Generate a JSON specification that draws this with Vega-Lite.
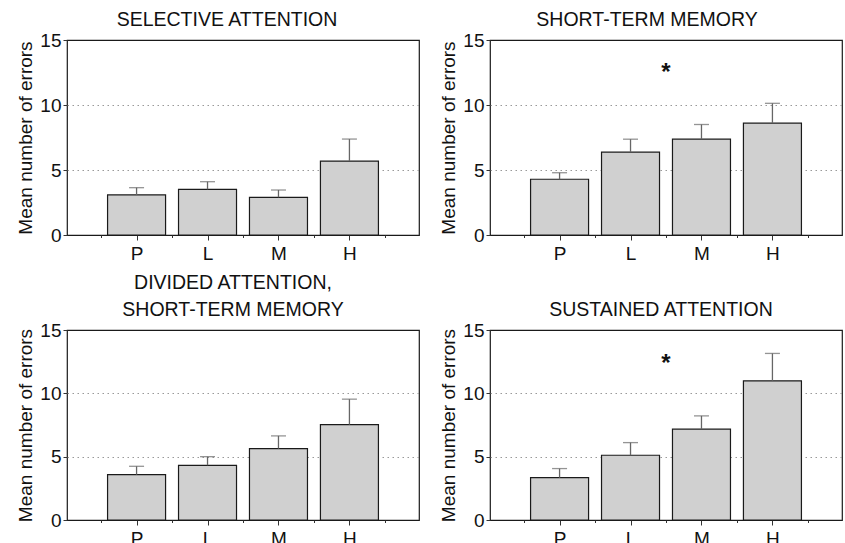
{
  "$schema": "https://vega.github.io/schema/vega-lite/v6.json",
  "padding": {"left": 16, "top": 8, "right": 0, "bottom": 0},
  "background": "white",
  "spacing": 7,
  "config": {
    "font": "Liberation Sans",
    "view": {"stroke": "#1a1a1a", "strokeWidth": 1.2},
    "concat": {"spacing": 19},
    "axis": {
      "domain": false,
      "labelFont": "Liberation Sans",
      "labelFontSize": 19,
      "labelColor": "#111",
      "tickColor": "#333",
      "titleFont": "Liberation Sans",
      "titleFontSize": 19,
      "titleFontWeight": "normal",
      "titleColor": "#111"
    },
    "title": {"font": "Liberation Sans", "fontSize": 19.5, "fontWeight": "normal", "color": "#111", "anchor": "middle", "offset": 1, "lineHeight": 27}
  },
  "datasets": {
    "bars": [
      {"panel": "SA", "group": "P", "pos": 1, "mean": 3.08, "err": 3.64},
      {"panel": "SA", "group": "L", "pos": 2, "mean": 3.51, "err": 4.10},
      {"panel": "SA", "group": "M", "pos": 3, "mean": 2.90, "err": 3.46},
      {"panel": "SA", "group": "H", "pos": 4, "mean": 5.69, "err": 7.38},
      {"panel": "STM", "group": "P", "pos": 1, "mean": 4.29, "err": 4.79},
      {"panel": "STM", "group": "L", "pos": 2, "mean": 6.37, "err": 7.37},
      {"panel": "STM", "group": "M", "pos": 3, "mean": 7.37, "err": 8.50},
      {"panel": "STM", "group": "H", "pos": 4, "mean": 8.60, "err": 10.13},
      {"panel": "DA", "group": "P", "pos": 1, "mean": 3.58, "err": 4.24},
      {"panel": "DA", "group": "L", "pos": 2, "mean": 4.32, "err": 5.00},
      {"panel": "DA", "group": "M", "pos": 3, "mean": 5.64, "err": 6.64},
      {"panel": "DA", "group": "H", "pos": 4, "mean": 7.53, "err": 9.54},
      {"panel": "SUS", "group": "P", "pos": 1, "mean": 3.34, "err": 4.06},
      {"panel": "SUS", "group": "L", "pos": 2, "mean": 5.11, "err": 6.11},
      {"panel": "SUS", "group": "M", "pos": 3, "mean": 7.17, "err": 8.22},
      {"panel": "SUS", "group": "H", "pos": 4, "mean": 10.99, "err": 13.15}
    ],
    "stars": [
      {"panel": "STM", "pos": 2.5, "y": 12.9, "label": "*"},
      {"panel": "SUS", "pos": 2.5, "y": 12.8, "label": "*"}
    ]
  },
  "vconcat": [
    {
      "hconcat": [
        {
          "title": {"text": "SELECTIVE ATTENTION", "dx": -16},
          "width": 352, "height": 195,
          "data": {"name": "bars"},
          "transform": [{"filter": "datum.panel === 'SA'"}],
          "encoding": {
            "x": {"field": "pos", "type": "quantitative",
              "scale": {"domain": [0.09, 4.91], "nice": false, "zero": false},
              "axis": {"title": null, "grid": false, "values": [0.5, 1, 1.5, 2, 2.5, 3, 3.5, 4, 4.5],
                "labelExpr": "datum.value === 1 ? 'P' : datum.value === 2 ? 'L' : datum.value === 3 ? 'M' : datum.value === 4 ? 'H' : ''",
                "tickSize": {"condition": {"test": "datum.value % 1 === 0", "value": 5}, "value": 2.5},
                "labelPadding": 4}}
          },
          "layer": [
            {"mark": {"type": "bar", "size": 58, "fill": "#d0d0d0", "stroke": "#1a1a1a", "strokeWidth": 1.2},
             "encoding": {"y": {"field": "mean", "type": "quantitative",
               "scale": {"domain": [0, 15], "nice": false},
               "axis": {"title": "Mean number of errors", "values": [0, 2.5, 5, 7.5, 10, 12.5, 15],
                 "labelExpr": "datum.value % 5 === 0 ? datum.label : ''",
                 "tickSize": {"condition": {"test": "datum.value % 5 === 0", "value": 4}, "value": 2.5},
                 "grid": true, "gridColor": "#999", "gridDash": [1.5, 3.5],
                 "gridOpacity": {"condition": {"test": "datum.value === 5 || datum.value === 10", "value": 1}, "value": 0},
                 "labelPadding": 2, "titlePadding": 4}}}},
            {"mark": {"type": "rule", "color": "#666", "strokeWidth": 1.3},
             "encoding": {"y": {"field": "mean", "type": "quantitative"}, "y2": {"field": "err"}}},
            {"mark": {"type": "tick", "orient": "horizontal", "color": "#666", "size": 15, "thickness": 1.3},
             "encoding": {"y": {"field": "err", "type": "quantitative"}}}
          ]
        },
        {
          "title": {"text": "SHORT-TERM MEMORY", "dx": -19},
          "width": 352, "height": 195,
          "data": {"name": "bars"},
          "transform": [{"filter": "datum.panel === 'STM'"}],
          "encoding": {
            "x": {"field": "pos", "type": "quantitative",
              "scale": {"domain": [0.09, 4.91], "nice": false, "zero": false},
              "axis": {"title": null, "grid": false, "values": [0.5, 1, 1.5, 2, 2.5, 3, 3.5, 4, 4.5],
                "labelExpr": "datum.value === 1 ? 'P' : datum.value === 2 ? 'L' : datum.value === 3 ? 'M' : datum.value === 4 ? 'H' : ''",
                "tickSize": {"condition": {"test": "datum.value % 1 === 0", "value": 5}, "value": 2.5},
                "labelPadding": 4}}
          },
          "layer": [
            {"mark": {"type": "bar", "size": 58, "fill": "#d0d0d0", "stroke": "#1a1a1a", "strokeWidth": 1.2},
             "encoding": {"y": {"field": "mean", "type": "quantitative",
               "scale": {"domain": [0, 15], "nice": false},
               "axis": {"title": "Mean number of errors", "values": [0, 2.5, 5, 7.5, 10, 12.5, 15],
                 "labelExpr": "datum.value % 5 === 0 ? datum.label : ''",
                 "tickSize": {"condition": {"test": "datum.value % 5 === 0", "value": 4}, "value": 2.5},
                 "grid": true, "gridColor": "#999", "gridDash": [1.5, 3.5],
                 "gridOpacity": {"condition": {"test": "datum.value === 5 || datum.value === 10", "value": 1}, "value": 0},
                 "labelPadding": 2, "titlePadding": 4}}}},
            {"mark": {"type": "rule", "color": "#666", "strokeWidth": 1.3},
             "encoding": {"y": {"field": "mean", "type": "quantitative"}, "y2": {"field": "err"}}},
            {"mark": {"type": "tick", "orient": "horizontal", "color": "#666", "size": 15, "thickness": 1.3},
             "encoding": {"y": {"field": "err", "type": "quantitative"}}},
            {"data": {"name": "stars"},
             "transform": [{"filter": "datum.panel === 'STM'"}],
             "mark": {"type": "text", "fontSize": 24, "fontWeight": "bold", "baseline": "middle", "align": "center", "dy": 6, "color": "#111", "font": "Liberation Sans"},
             "encoding": {"y": {"field": "y", "type": "quantitative"}, "text": {"field": "label"}}}
          ]
        }
      ]
    },
    {
      "hconcat": [
        {
          "title": {"text": ["DIVIDED ATTENTION,", "SHORT-TERM MEMORY"], "dx": -10},
          "width": 352, "height": 190,
          "data": {"name": "bars"},
          "transform": [{"filter": "datum.panel === 'DA'"}],
          "encoding": {
            "x": {"field": "pos", "type": "quantitative",
              "scale": {"domain": [0.09, 4.91], "nice": false, "zero": false},
              "axis": {"title": null, "grid": false, "values": [0.5, 1, 1.5, 2, 2.5, 3, 3.5, 4, 4.5],
                "labelExpr": "datum.value === 1 ? 'P' : datum.value === 2 ? 'L' : datum.value === 3 ? 'M' : datum.value === 4 ? 'H' : ''",
                "tickSize": {"condition": {"test": "datum.value % 1 === 0", "value": 5}, "value": 2.5},
                "labelPadding": 4}}
          },
          "layer": [
            {"mark": {"type": "bar", "size": 58, "fill": "#d0d0d0", "stroke": "#1a1a1a", "strokeWidth": 1.2},
             "encoding": {"y": {"field": "mean", "type": "quantitative",
               "scale": {"domain": [0, 15], "nice": false},
               "axis": {"title": "Mean number of errors", "values": [0, 2.5, 5, 7.5, 10, 12.5, 15],
                 "labelExpr": "datum.value % 5 === 0 ? datum.label : ''",
                 "tickSize": {"condition": {"test": "datum.value % 5 === 0", "value": 4}, "value": 2.5},
                 "grid": true, "gridColor": "#999", "gridDash": [1.5, 3.5],
                 "gridOpacity": {"condition": {"test": "datum.value === 5 || datum.value === 10", "value": 1}, "value": 0},
                 "labelPadding": 2, "titlePadding": 4}}}},
            {"mark": {"type": "rule", "color": "#666", "strokeWidth": 1.3},
             "encoding": {"y": {"field": "mean", "type": "quantitative"}, "y2": {"field": "err"}}},
            {"mark": {"type": "tick", "orient": "horizontal", "color": "#666", "size": 15, "thickness": 1.3},
             "encoding": {"y": {"field": "err", "type": "quantitative"}}}
          ]
        },
        {
          "title": {"text": "SUSTAINED ATTENTION", "dx": -5},
          "width": 352, "height": 190,
          "data": {"name": "bars"},
          "transform": [{"filter": "datum.panel === 'SUS'"}],
          "encoding": {
            "x": {"field": "pos", "type": "quantitative",
              "scale": {"domain": [0.09, 4.91], "nice": false, "zero": false},
              "axis": {"title": null, "grid": false, "values": [0.5, 1, 1.5, 2, 2.5, 3, 3.5, 4, 4.5],
                "labelExpr": "datum.value === 1 ? 'P' : datum.value === 2 ? 'L' : datum.value === 3 ? 'M' : datum.value === 4 ? 'H' : ''",
                "tickSize": {"condition": {"test": "datum.value % 1 === 0", "value": 5}, "value": 2.5},
                "labelPadding": 4}}
          },
          "layer": [
            {"mark": {"type": "bar", "size": 58, "fill": "#d0d0d0", "stroke": "#1a1a1a", "strokeWidth": 1.2},
             "encoding": {"y": {"field": "mean", "type": "quantitative",
               "scale": {"domain": [0, 15], "nice": false},
               "axis": {"title": "Mean number of errors", "values": [0, 2.5, 5, 7.5, 10, 12.5, 15],
                 "labelExpr": "datum.value % 5 === 0 ? datum.label : ''",
                 "tickSize": {"condition": {"test": "datum.value % 5 === 0", "value": 4}, "value": 2.5},
                 "grid": true, "gridColor": "#999", "gridDash": [1.5, 3.5],
                 "gridOpacity": {"condition": {"test": "datum.value === 5 || datum.value === 10", "value": 1}, "value": 0},
                 "labelPadding": 2, "titlePadding": 4}}}},
            {"mark": {"type": "rule", "color": "#666", "strokeWidth": 1.3},
             "encoding": {"y": {"field": "mean", "type": "quantitative"}, "y2": {"field": "err"}}},
            {"mark": {"type": "tick", "orient": "horizontal", "color": "#666", "size": 15, "thickness": 1.3},
             "encoding": {"y": {"field": "err", "type": "quantitative"}}},
            {"data": {"name": "stars"},
             "transform": [{"filter": "datum.panel === 'SUS'"}],
             "mark": {"type": "text", "fontSize": 24, "fontWeight": "bold", "baseline": "middle", "align": "center", "dy": 6, "color": "#111", "font": "Liberation Sans"},
             "encoding": {"y": {"field": "y", "type": "quantitative"}, "text": {"field": "label"}}}
          ]
        }
      ]
    }
  ]
}
